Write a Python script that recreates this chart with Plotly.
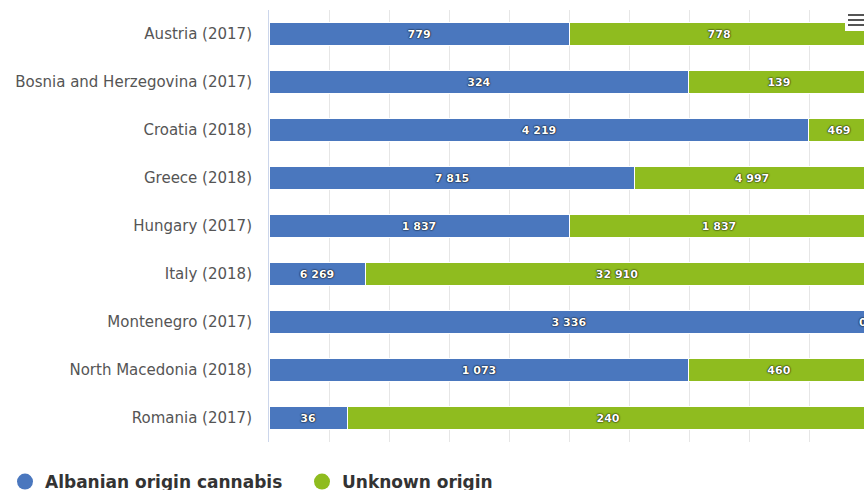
import plotly.graph_objects as go

categories = ["Austria (2017)", "Bosnia and Herzegovina (2017)", "Croatia (2018)",
              "Greece (2018)", "Hungary (2017)", "Italy (2018)", "Montenegro (2017)",
              "North Macedonia (2018)", "Romania (2017)"]
albanian = [779, 324, 4219, 7815, 1837, 6269, 3336, 1073, 36]
unknown = [778, 139, 469, 4997, 1837, 32910, 0, 460, 240]

BLUE = "#4a77be"
GREEN = "#8fbc1f"

def fmt(v):
    return f"{v:,}".replace(",", " ")

W, H = 864, 490
ML, MR, MT, MB = 269, 0, 10, 48

label_font = dict(family="DejaVu Sans", size=11, color="white", weight="bold",
                  shadow="0px 0px 2px #000, 0px 0px 1px #000")

fig = go.Figure()
fig.add_trace(go.Bar(
    y=categories, x=albanian, orientation="h", name="Albanian origin cannabis",
    marker=dict(color=BLUE, line=dict(color="white", width=1)),
    text=[fmt(v) for v in albanian], textposition="inside", insidetextanchor="middle",
    textangle=0, constraintext="none", textfont=dict(label_font), showlegend=False,
))
fig.add_trace(go.Bar(
    y=categories, x=unknown, orientation="h", name="Unknown origin",
    marker=dict(color=GREEN, line=dict(color="white", width=1)),
    text=[fmt(v) for v in unknown], textposition="inside", insidetextanchor="middle",
    textangle=0, constraintext="none", textfont=dict(label_font), showlegend=False,
))
# legend entries with circle symbols
for name, col in [("Albanian origin cannabis", BLUE), ("Unknown origin", GREEN)]:
    fig.add_trace(go.Scatter(x=[None], y=[None], mode="markers", name=name,
                             marker=dict(color=col, size=16, symbol="circle")))

# labels for zero-width segments (end of the stack, kept inside the visible plot)
for c, u in zip(categories, unknown):
    if u == 0:
        fig.add_annotation(x=1, y=c, xref="x domain", yref="y", text=f"<b>{fmt(u)}</b>",
                           showarrow=False, xanchor="left", xshift=-7,
                           font=dict(label_font))

plot_w = W - ML - MR
plot_h = H - MT - MB
xmax = 100 * plot_w / 600.0

fig.update_layout(
    width=W, height=H,
    margin=dict(l=ML, r=MR, t=MT, b=MB, autoexpand=False),
    barmode="stack", barnorm="percent", bargap=0.54,
    plot_bgcolor="white", paper_bgcolor="white",
    font=dict(family="DejaVu Sans", color="#555555"),
    xaxis=dict(range=[0, xmax], dtick=10, tick0=0, showgrid=True, gridcolor="#e6e6e6",
               gridwidth=1, showticklabels=False, zeroline=False, showline=False,
               fixedrange=True, automargin=False),
    yaxis=dict(autorange="reversed", showline=True, linecolor="#ccd6eb", linewidth=1,
               tickfont=dict(family="DejaVu Sans", size=15, color="#555555"),
               ticks="", ticklabelstandoff=13, showgrid=False, zeroline=False,
               automargin=False),
    legend=dict(orientation="h", traceorder="normal", x=-(ML - 5) / plot_w, xanchor="left",
                y=(H - MB - 482) / plot_h, yanchor="middle",
                entrywidth=252, entrywidthmode="pixels",
                font=dict(family="DejaVu Sans", size=17, color="#333333", weight="bold"),
                bgcolor="rgba(0,0,0,0)"),
    showlegend=True,
)

# export menu button (hamburger)
def px_x(x):
    return (x - ML) / plot_w
def px_y(y):
    return (H - MB - y) / plot_h
fig.add_shape(type="rect", xref="paper", yref="paper",
              x0=px_x(845), x1=px_x(866), y0=px_y(8), y1=px_y(31),
              fillcolor="white", line=dict(width=0), layer="above")
for yy in [15, 20, 25]:
    fig.add_shape(type="line", xref="paper", yref="paper",
                  x0=px_x(848), x1=px_x(866), y0=px_y(yy), y1=px_y(yy),
                  line=dict(color="#555555", width=2), layer="above")

fig.write_html("out.html")
